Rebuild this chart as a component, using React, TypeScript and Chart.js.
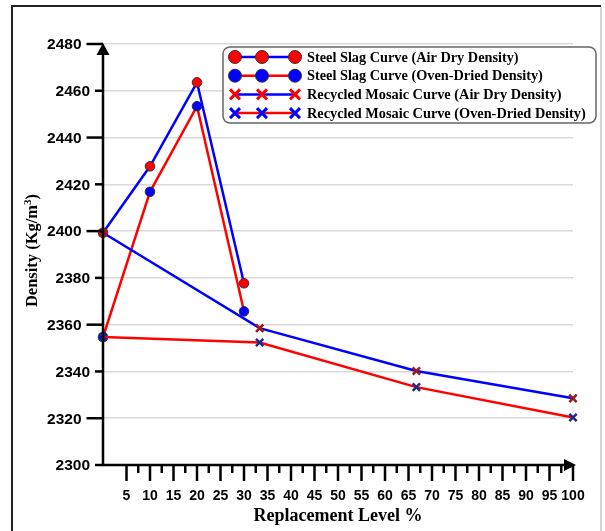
import React, { useEffect, useRef } from "react";
import { Chart, registerables } from "chart.js";

Chart.register(...registerables);

// Replacement levels (%)
const steelLevels = [0, 10, 20, 30];
const mosaicLevels = [0, 33.33, 66.67, 100];

// Densities (Kg/m3)
const steelAirDry = [2399.3, 2427.7, 2463.6, 2377.7];
const steelOvenDry = [2354.7, 2416.8, 2453.4, 2365.7];
const mosaicAirDry = [2399.3, 2358.5, 2340.2, 2328.5];
const mosaicOvenDry = [2354.7, 2352.4, 2333.3, 2320.3];

// Axis ticks
const yTickValues = [2300, 2320, 2340, 2360, 2380, 2400, 2420, 2440, 2460, 2480];
const xTickValues = [5, 10, 15, 20, 25, 30, 35, 40, 45, 50, 55, 60, 65, 70, 75, 80, 85, 90, 95, 100];

const seriesNames = [
  "Steel Slag Curve (Air Dry Density)",
  "Steel Slag Curve (Oven-Dried Density)",
  "Recycled Mosaic Curve (Air Dry Density)",
  "Recycled Mosaic Curve (Oven-Dried Density)",
];

const RED = "#ff0000";
const BLUE = "#0000ff";

const toPoints = (xs: number[], ys: number[]) => xs.map((x, i) => ({ x, y: ys[i] }));

type LegendEntry = { name: string; line: string; marker: string; style: "circle" | "cross" };
const legendEntries: LegendEntry[] = [
  { name: seriesNames[0], line: BLUE, marker: RED, style: "circle" },
  { name: seriesNames[1], line: RED, marker: BLUE, style: "circle" },
  { name: seriesNames[2], line: BLUE, marker: RED, style: "cross" },
  { name: seriesNames[3], line: RED, marker: BLUE, style: "cross" },
];

const SERIF = "'Liberation Serif', 'Times New Roman', serif";
const SANS = "'Liberation Sans', Arial, sans-serif";

const decorPlugin = {
  id: "decor",
  afterDraw(chart: any) {
    const ctx: CanvasRenderingContext2D = chart.ctx;
    const xs = chart.scales.x;
    const ys = chart.scales.y;
    const x0 = xs.getPixelForValue(0);
    const xEnd = xs.getPixelForValue(100);
    const y0 = ys.getPixelForValue(2300);
    const yTop = ys.getPixelForValue(2480);
    ctx.save();

    // outer frame
    ctx.lineWidth = 2;
    ctx.strokeStyle = "#222";
    ctx.beginPath();
    ctx.moveTo(12, 531);
    ctx.lineTo(12, 6);
    ctx.lineTo(601, 6);
    ctx.stroke();
    ctx.lineWidth = 1.5;
    ctx.strokeStyle = "#c4c4c4";
    ctx.beginPath();
    ctx.moveTo(601, 7);
    ctx.lineTo(601, 531);
    ctx.stroke();

    ctx.strokeStyle = "#000";
    ctx.fillStyle = "#000";
    ctx.lineWidth = 2.5;

    // y axis with arrow
    ctx.beginPath();
    ctx.moveTo(x0, y0);
    ctx.lineTo(x0, yTop + 8);
    ctx.stroke();
    ctx.beginPath();
    ctx.moveTo(x0, yTop - 1);
    ctx.lineTo(x0 + 6.5, yTop + 11);
    ctx.lineTo(x0 - 6.5, yTop + 11);
    ctx.closePath();
    ctx.fill();

    // y ticks and labels
    ctx.font = `bold 15.5px ${SANS}`;
    ctx.textAlign = "right";
    ctx.textBaseline = "middle";
    yTickValues.forEach((v) => {
      const y = ys.getPixelForValue(v);
      const long = (v - 2320) % 40 === 0;
      const start = long ? x0 - 16.5 : x0 - 8;
      ctx.beginPath();
      ctx.moveTo(start, y);
      ctx.lineTo(x0, y);
      ctx.stroke();
      ctx.fillText(String(v), start - 5, y + 1);
    });

    // x axis with arrow
    ctx.beginPath();
    ctx.moveTo(x0 - 1, y0);
    ctx.lineTo(xEnd - 4, y0);
    ctx.stroke();
    ctx.beginPath();
    ctx.moveTo(xEnd + 3, y0);
    ctx.lineTo(xEnd - 9, y0 - 6);
    ctx.lineTo(xEnd - 9, y0 + 6);
    ctx.closePath();
    ctx.fill();

    // x ticks and labels
    ctx.font = `bold 14px ${SANS}`;
    ctx.textAlign = "center";
    xTickValues.forEach((v) => {
      const x = xs.getPixelForValue(v);
      ctx.beginPath();
      ctx.moveTo(x, y0);
      ctx.lineTo(x, y0 + 16);
      ctx.stroke();
      if (v < 100) {
        const xm = xs.getPixelForValue(v + 2.5);
        ctx.beginPath();
        ctx.moveTo(xm, y0);
        ctx.lineTo(xm, y0 + 8);
        ctx.stroke();
      }
      ctx.fillText(String(v), x, y0 + 31);
    });

    // axis titles
    const area = chart.chartArea;
    ctx.font = `bold 18px ${SERIF}`;
    ctx.textAlign = "center";
    ctx.fillText("Replacement Level %", (area.left + area.right) / 2, y0 + 51);

    ctx.save();
    ctx.translate(33, (area.top + area.bottom) / 2 - 4);
    ctx.rotate(-Math.PI / 2);
    const main = "Density (Kg/m";
    const sup = "3";
    const close = ")";
    ctx.font = `bold 16.5px ${SERIF}`;
    const wMain = ctx.measureText(main).width;
    const wClose = ctx.measureText(close).width;
    ctx.font = `bold 11px ${SERIF}`;
    const wSup = ctx.measureText(sup).width;
    const total = wMain + wSup + wClose;
    let cx = -total / 2;
    ctx.textAlign = "left";
    ctx.font = `bold 16.5px ${SERIF}`;
    ctx.fillText(main, cx, 0);
    cx += wMain;
    ctx.font = `bold 11px ${SERIF}`;
    ctx.fillText(sup, cx, -5);
    cx += wSup;
    ctx.font = `bold 16.5px ${SERIF}`;
    ctx.fillText(close, cx, 0);
    ctx.restore();

    // legend
    const lx = 223, ly = 47, lw = 373, lh = 76, r = 7;
    ctx.beginPath();
    ctx.moveTo(lx + r, ly);
    ctx.lineTo(lx + lw - r, ly);
    ctx.arcTo(lx + lw, ly, lx + lw, ly + r, r);
    ctx.lineTo(lx + lw, ly + lh - r);
    ctx.arcTo(lx + lw, ly + lh, lx + lw - r, ly + lh, r);
    ctx.lineTo(lx + r, ly + lh);
    ctx.arcTo(lx, ly + lh, lx, ly + lh - r, r);
    ctx.lineTo(lx, ly + r);
    ctx.arcTo(lx, ly, lx + r, ly, r);
    ctx.closePath();
    ctx.fillStyle = "#fff";
    ctx.fill();
    ctx.lineWidth = 1.5;
    ctx.strokeStyle = "#666";
    ctx.stroke();

    const markerXs = [235, 262, 295];
    ctx.font = `bold 14.3px ${SERIF}`;
    ctx.textAlign = "left";
    ctx.textBaseline = "middle";
    legendEntries.forEach((e, i) => {
      const y = 57 + i * 18.7;
      ctx.strokeStyle = e.line;
      ctx.lineWidth = 2.5;
      ctx.beginPath();
      ctx.moveTo(markerXs[0], y);
      ctx.lineTo(markerXs[2], y);
      ctx.stroke();
      markerXs.forEach((mx) => {
        if (e.style === "circle") {
          ctx.beginPath();
          ctx.arc(mx, y, 6.5, 0, Math.PI * 2);
          ctx.fillStyle = e.marker;
          ctx.fill();
          ctx.lineWidth = 1;
          ctx.strokeStyle = "#333";
          ctx.stroke();
        } else {
          ctx.lineWidth = 3;
          ctx.strokeStyle = e.marker;
          ctx.beginPath();
          ctx.moveTo(mx - 5, y - 5);
          ctx.lineTo(mx + 5, y + 5);
          ctx.moveTo(mx + 5, y - 5);
          ctx.lineTo(mx - 5, y + 5);
          ctx.stroke();
        }
      });
      ctx.fillStyle = "#000";
      ctx.fillText(e.name, 307, y + 1);
    });

    ctx.restore();
  },
};

export default function App() {
  const canvasRef = useRef<HTMLCanvasElement | null>(null);

  useEffect(() => {
    if (!canvasRef.current) return;
    const circleSet = (label: string, xsArr: number[], ysArr: number[], line: string, fill: string) => ({
      label,
      data: toPoints(xsArr, ysArr),
      borderColor: line,
      borderWidth: 2.5,
      pointStyle: "circle",
      pointRadius: 4.8,
      pointBackgroundColor: fill,
      pointBorderColor: "#333",
      pointBorderWidth: 1,
      clip: false,
      tension: 0,
    });
    const crossSet = (label: string, xsArr: number[], ysArr: number[], line: string, mark: string) => ({
      label,
      data: toPoints(xsArr, ysArr),
      borderColor: line,
      borderWidth: 2.5,
      pointStyle: "crossRot",
      pointRadius: 5.2,
      pointBackgroundColor: mark,
      pointBorderColor: mark,
      pointBorderWidth: 2.5,
      clip: false,
      tension: 0,
    });

    const chart = new Chart(canvasRef.current, {
      type: "line",
      data: {
        datasets: [
          crossSet(seriesNames[2], mosaicLevels, mosaicAirDry, BLUE, "#9e1a1a"),
          crossSet(seriesNames[3], mosaicLevels, mosaicOvenDry, RED, "#1a2a8e"),
          circleSet(seriesNames[0], steelLevels, steelAirDry, BLUE, RED),
          circleSet(seriesNames[1], steelLevels, steelOvenDry, RED, BLUE),
        ] as any,
      },
      options: {
        animation: false,
        responsive: false,
        layout: { padding: { top: 44, right: 32, bottom: 0, left: 0 } },
        plugins: { legend: { display: false }, tooltip: { enabled: false } },
        scales: {
          x: {
            type: "linear",
            min: 0,
            max: 100,
            grid: { display: false },
            border: { display: false },
            ticks: { display: false },
            afterFit: (s: any) => {
              s.height = 66;
            },
          },
          y: {
            min: 2300,
            max: 2480,
            ticks: { display: false, stepSize: 20 },
            grid: { color: "#d9d9d9", lineWidth: 1.5, drawTicks: false },
            border: { display: false },
            afterFit: (s: any) => {
              s.width = 103;
            },
          },
        },
      } as any,
      plugins: [decorPlugin],
    });
    return () => chart.destroy();
  }, []);

  return (
    <div style={{ position: "absolute", left: 0, top: 0, width: 605, height: 531, background: "#fff" }}>
      <canvas ref={canvasRef} width={605} height={531} />
    </div>
  );
}
